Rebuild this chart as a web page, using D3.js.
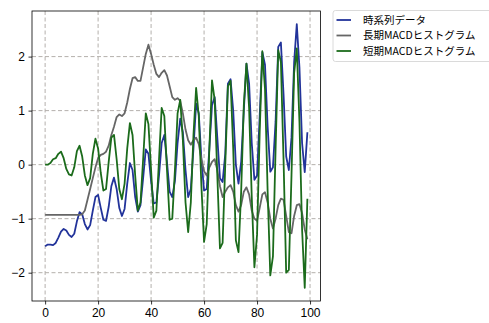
<!DOCTYPE html>
<html>
<head>
<meta charset="utf-8">
<script src="https://cdn.jsdelivr.net/npm/d3@7"></script>
<style>
  body { margin: 0; background: #fff; }
  svg { display: block; }
</style>
</head>
<body>
<script>
// values (index 0..99)
var seriesNames = ["時系列データ", "長期MACDヒストグラム", "短期MACDヒストグラム"];
var seriesColors = ["#22339a", "#666666", "#1b6b1b"];

var timeSeries = [
  -1.51, -1.48, -1.48, -1.49, -1.45, -1.35, -1.24, -1.19, -1.22, -1.30,
  -1.34, -1.28, -1.05, -0.88, -0.92, -1.10, -1.20, -1.12, -0.85, -0.60,
  -0.56, -0.80, -1.02, -1.04, -0.78, -0.40, -0.24, -0.45, -0.80, -0.95,
  -0.82, -0.35, 0.03, -0.10, -0.60, -0.87, -0.75, -0.25, 0.28, 0.20,
  -0.30, -0.72, -0.70, -0.20, 0.40, 0.55, 0.05, -0.50, -0.60, -0.30,
  0.40, 0.85, 0.60, -0.10, -0.60, -0.45, 0.30, 1.13, 0.95, 0.10,
  -0.48, -0.45, 0.30, 1.10, 1.25, 0.50, -0.25, -0.32, 0.20, 1.50,
  1.58, 1.00, 0.00, -0.35, 0.05, 1.00, 1.87, 1.50, 0.40, -0.28,
  -0.20, 0.90, 2.08, 1.85, 0.70, -0.13, -0.05, 0.80, 2.18, 2.26,
  1.30, 0.15, -0.10, 0.50, 1.90, 2.60, 1.80, 0.40, -0.14, 0.60
];

var longMacd = [
  -0.93, -0.93, -0.93, -0.93, -0.93, -0.93, -0.93, -0.93, -0.93, -0.93,
  -0.93, -0.93, -0.93, -0.93, -0.92, -0.85, -0.65, -0.45, -0.25, -0.05,
  0.12, 0.18, 0.20, 0.24, 0.35, 0.55, 0.70, 0.88, 0.93, 0.90,
  0.95, 1.15, 1.40, 1.60, 1.62, 1.55, 1.55, 1.80, 2.05, 2.22,
  2.05, 1.85, 1.68, 1.62, 1.70, 1.75, 1.65, 1.45, 1.25, 1.20,
  1.23, 1.18, 0.95, 0.65, 0.45, 0.37, 0.45, 0.50, 0.38, 0.10,
  -0.12, -0.20, -0.05, 0.05, 0.10, -0.10, -0.40, -0.60, -0.50, -0.42,
  -0.38, -0.50, -0.75, -0.87, -0.75, -0.50, -0.42, -0.55, -0.85, -1.00,
  -1.04, -0.80, -0.55, -0.51, -0.70, -1.00, -1.18, -1.00, -0.75, -0.63,
  -0.65, -0.95, -1.25, -1.27, -0.95, -0.75, -0.73, -0.90, -1.20, -1.38
];

var shortMacd = [
  0.00, 0.00, 0.03, 0.10, 0.12, 0.20, 0.24, 0.12, -0.08, -0.18,
  -0.20, -0.05, 0.25, 0.35, 0.15, -0.20, -0.38, -0.25, 0.20, 0.48,
  0.30, -0.15, -0.48, -0.45, 0.05, 0.50, 0.55, 0.10, -0.45, -0.64,
  -0.35, 0.30, 0.77, 0.55, -0.20, -0.85, -0.70, 0.10, 0.95, 0.75,
  -0.10, -0.98, -0.85, 0.10, 1.05, 0.90, -0.10, -1.02, -1.00, -0.10,
  0.95, 1.20, 0.45, -0.70, -1.25, -0.70, 0.55, 1.42, 0.90, -0.40,
  -1.43, -1.10, 0.30, 1.56, 1.20, -0.20, -1.55, -1.45, 0.00, 1.45,
  1.55, 0.30, -1.40, -1.62, -0.50, 1.10, 1.87, 1.05, -0.60, -1.90,
  -1.30, 0.60, 2.10, 1.40, -0.50, -2.05, -1.70, 0.30, 2.12, 1.90,
  0.10, -2.00, -1.95, -0.20, 1.70, 2.15, 0.80, -1.20, -2.28, -0.63
];

var xTicks = [0, 20, 40, 60, 80, 100];
var yTicks = [-2, -1, 0, 1, 2];

var W = 489, H = 323;
var plotL = 32, plotT = 11, plotR = 320.5, plotB = 301;

var svg = d3.select("body").append("svg")
    .attr("width", W)
    .attr("height", H);

var allSeries = [timeSeries, longMacd, shortMacd];
var n = timeSeries.length;

var x = d3.scaleLinear()
    .domain([-(n - 1) * 0.05, (n - 1) * 1.05])
    .range([plotL, plotR]);

var yMin = d3.min(allSeries, function(s) { return d3.min(s); });
var yMax = d3.max(allSeries, function(s) { return d3.max(s); });
var pad = (yMax - yMin) * 0.05;
var y = d3.scaleLinear()
    .domain([yMin - pad, yMax + pad])
    .range([plotB, plotT]);

// grid
var grid = svg.append("g");
grid.selectAll("line.gx")
  .data(xTicks)
  .enter().append("line")
    .attr("x1", function(d) { return x(d); })
    .attr("x2", function(d) { return x(d); })
    .attr("y1", plotT)
    .attr("y2", plotB)
    .attr("stroke", "#b4b0ac")
    .attr("stroke-width", 1)
    .attr("stroke-dasharray", "4,2.5");
grid.selectAll("line.gy")
  .data(yTicks)
  .enter().append("line")
    .attr("x1", plotL)
    .attr("x2", plotR)
    .attr("y1", function(d) { return y(d); })
    .attr("y2", function(d) { return y(d); })
    .attr("stroke", "#b4b0ac")
    .attr("stroke-width", 1)
    .attr("stroke-dasharray", "4,2.5");

// lines
var line = d3.line()
    .x(function(d, i) { return x(i); })
    .y(function(d) { return y(d); });

svg.append("defs").append("clipPath")
    .attr("id", "clip")
  .append("rect")
    .attr("x", plotL)
    .attr("y", plotT)
    .attr("width", plotR - plotL)
    .attr("height", plotB - plotT);

var plot = svg.append("g").attr("clip-path", "url(#clip)");
allSeries.forEach(function(s, k) {
  plot.append("path")
      .datum(s)
      .attr("d", line)
      .attr("fill", "none")
      .attr("stroke", seriesColors[k])
      .attr("stroke-width", 1.8)
      .attr("stroke-linejoin", "round");
});

// axes
var xAxis = d3.axisBottom(x)
    .tickValues(xTicks)
    .tickSize(3.5)
    .tickPadding(3.5);
var yAxis = d3.axisLeft(y)
    .tickValues(yTicks)
    .tickSize(3.5)
    .tickPadding(3.5)
    .tickFormat(function(d) { return d < 0 ? "\u2212" + Math.abs(d) : d; });

var gx = svg.append("g")
    .attr("transform", "translate(0," + plotB + ")")
    .call(xAxis);
var gy = svg.append("g")
    .attr("transform", "translate(" + plotL + ",0)")
    .call(yAxis);

[gx, gy].forEach(function(g) {
  g.select(".domain").remove();
  g.selectAll(".tick line").attr("stroke", "#000").attr("stroke-width", 0.8);
  g.selectAll(".tick text")
      .attr("fill", "#000")
      .style("font-family", "'Liberation Sans', Arial, sans-serif")
      .style("font-size", "12px");
});

// frame
svg.append("rect")
    .attr("x", plotL)
    .attr("y", plotT)
    .attr("width", plotR - plotL)
    .attr("height", plotB - plotT)
    .attr("fill", "none")
    .attr("stroke", "#000")
    .attr("stroke-width", 0.8);

// legend
var legend = svg.append("g").attr("transform", "translate(333,10.5)");
legend.append("rect")
    .attr("x", 0)
    .attr("y", 0)
    .attr("width", 160)
    .attr("height", 51)
    .attr("rx", 2.5)
    .attr("fill", "#fff")
    .attr("stroke", "#d0d0d0")
    .attr("stroke-width", 0.8);

var rows = legend.selectAll("g.row")
    .data(seriesNames)
  .enter().append("g")
    .attr("transform", function(d, i) { return "translate(0," + (9.5 + i * 15.5) + ")"; });

rows.append("line")
    .attr("x1", 3.5)
    .attr("x2", 18)
    .attr("y1", 0)
    .attr("y2", 0)
    .attr("stroke", function(d, i) { return seriesColors[i]; })
    .attr("stroke-width", 1.8);

rows.append("text")
    .attr("x", 30)
    .attr("y", 0)
    .attr("dy", "0.35em")
    .style("font-family", "'Noto Sans CJK JP', sans-serif")
    .style("font-size", "10.5px")
    .attr("fill", "#000")
    .text(function(d) { return d; });
</script>
</body>
</html>
